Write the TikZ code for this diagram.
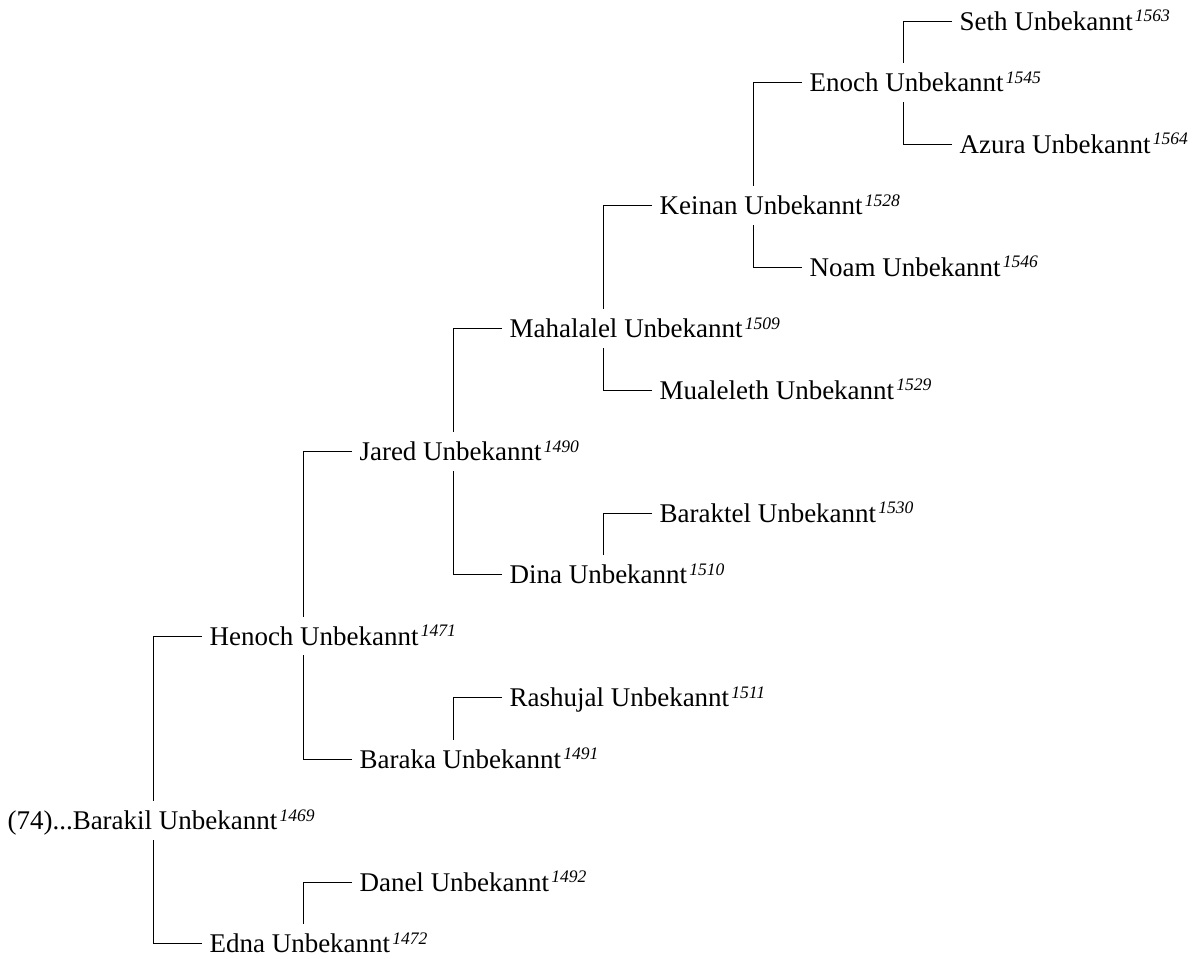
\documentclass[tikz,border=0pt]{standalone}
\usepackage{fontspec}
\setmainfont{Liberation Serif}
\newcommand{\yr}[1]{\kern1.5pt\raisebox{6pt}{\fontsize{12.5}{13}\selectfont\itshape #1}}

\begin{document}
\begin{tikzpicture}[x=0.025cm,y=-0.025cm,line width=0.7pt,every node/.style={font=\fontsize{19.2}{22}\selectfont,anchor=west,inner xsep=5pt,inner ysep=0pt,minimum height=27pt,text height=13.3pt,text depth=0pt}]
\useasboundingbox (0,0) rectangle (1194,958);
\coordinate (c0) at (153,0);
\coordinate (c1) at (303,0);
\coordinate (c2) at (453,0);
\coordinate (c3) at (603,0);
\coordinate (c4) at (753,0);
\coordinate (c5) at (903,0);
\node (seth) at (952,21) {Seth Unbekannt\yr{1563}};
\node (enoch) at (802,82.5) {Enoch Unbekannt\yr{1545}};
\node (azura) at (952,144) {Azura Unbekannt\yr{1564}};
\node (keinan) at (652,205.5) {Keinan Unbekannt\yr{1528}};
\node (noam) at (802,267) {Noam Unbekannt\yr{1546}};
\node (mahalalel) at (502,328.5) {Mahalalel Unbekannt\yr{1509}};
\node (mualeleth) at (652,390) {Mualeleth Unbekannt\yr{1529}};
\node (jared) at (352,451.5) {Jared Unbekannt\yr{1490}};
\node (baraktel) at (652,513) {Baraktel Unbekannt\yr{1530}};
\node (dina) at (502,574.5) {Dina Unbekannt\yr{1510}};
\node (henoch) at (202,636) {Henoch Unbekannt\yr{1471}};
\node (rashujal) at (502,697.5) {Rashujal Unbekannt\yr{1511}};
\node (baraka) at (352,759) {Baraka Unbekannt\yr{1491}};
\node (barakil) at (0,820.5) {(74)...Barakil Unbekannt\yr{1469}};
\node (danel) at (352,882) {Danel Unbekannt\yr{1492}};
\node (edna) at (202,943.5) {Edna Unbekannt\yr{1472}};
% parents of Barakil
\draw (henoch.west) -| (c0 |- barakil.north);
\draw (edna.west) -| (c0 |- barakil.south);
\draw (danel.west) -| (c1 |- edna.north);
% parents of Henoch
\draw (jared.west) -| (c1 |- henoch.north);
\draw (baraka.west) -| (c1 |- henoch.south);
\draw (rashujal.west) -| (c2 |- baraka.north);
% parents of Jared
\draw (mahalalel.west) -| (c2 |- jared.north);
\draw (dina.west) -| (c2 |- jared.south);
\draw (baraktel.west) -| (c3 |- dina.north);
% parents of Mahalalel
\draw (keinan.west) -| (c3 |- mahalalel.north);
\draw (mualeleth.west) -| (c3 |- mahalalel.south);
\draw (enoch.west) -| (c4 |- keinan.north);
\draw (noam.west) -| (c4 |- keinan.south);
\draw (seth.west) -| (c5 |- enoch.north);
\draw (azura.west) -| (c5 |- enoch.south);
\end{tikzpicture}
\end{document}
